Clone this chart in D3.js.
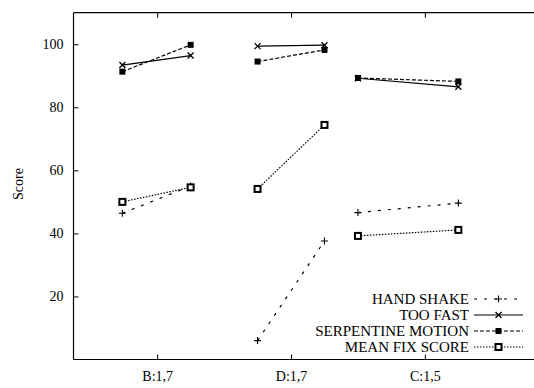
<!DOCTYPE html>
<html>
<head>
<meta charset="utf-8">
<script src="https://cdn.jsdelivr.net/npm/d3@7"></script>
<style>
  body { margin: 0; background: #fff; }
  svg text { font-family: "Liberation Serif", "DejaVu Serif", Times, serif; }
</style>
</head>
<body>
<div id="chart"></div>
<script>
// categories and tick positions
var categories = ["B:1,7", "D:1,7", "C:1,5"];
var catPos = [1, 2, 3];
var yTicks = [20, 40, 60, 80, 100];

// x positions of the point pairs (axis units)
var xB = [0.74, 1.25], xD = [1.75, 2.25], xC = [2.5, 3.25];

// series values, pair by pair
var handShake  = [[46.4, 55.0], [6.0, 37.6], [46.6, 49.6]];
var tooFast    = [[93.4, 96.4], [99.4, 99.7], [89.2, 86.5]];
var serpentine = [[91.3, 99.8], [94.5, 98.2], [89.3, 88.2]];
var meanFix    = [[50.0, 54.6], [54.1, 74.4], [39.2, 41.1]];

var seriesNames = ["HAND SHAKE", "TOO FAST", "SERPENTINE MOTION", "MEAN FIX SCORE"];

var width = 534, height = 388;
var plotLeft = 73.5, plotTop = 12.7, plotBottom = 359.5;

var x = d3.scaleLinear().domain([0.375, 3.875]).range([plotLeft, 542]);
var y = d3.scaleLinear().domain([0, 110]).range([plotBottom, plotTop]);

var svg = d3.select("#chart").append("svg")
  .attr("width", width)
  .attr("height", height)
  .style("display", "block");

var xs = [xB, xD, xC];
var series = [
  {name: seriesNames[0], data: handShake,  dash: "3,7",   marker: "plus"},
  {name: seriesNames[1], data: tooFast,    dash: null,    marker: "cross"},
  {name: seriesNames[2], data: serpentine, dash: "4,2",   marker: "fsquare"},
  {name: seriesNames[3], data: meanFix,    dash: "1.5,1.5", marker: "osquare"}
];

// frame: left, top, bottom (right edge falls outside the picture)
var frame = svg.append("g").attr("stroke", "#000").attr("stroke-width", 1.2).attr("fill", "none");
frame.append("line").attr("x1", plotLeft).attr("x2", plotLeft).attr("y1", plotTop).attr("y2", plotBottom);
frame.append("line").attr("x1", plotLeft).attr("x2", width).attr("y1", plotTop).attr("y2", plotTop);
frame.append("line").attr("x1", plotLeft).attr("x2", width).attr("y1", plotBottom).attr("y2", plotBottom);

function styleAxis(g) {
  g.select(".domain").remove();
  g.attr("font-family", null);
  g.selectAll("text").attr("font-size", 14).attr("fill", "#000");
  g.selectAll("line").attr("stroke", "#000");
}

// axes
var yAxis = d3.axisLeft(y).tickValues(yTicks).tickSize(-5).tickPadding(10);
svg.append("g").attr("transform", "translate(" + plotLeft + ",0)").call(yAxis).call(styleAxis);

var xAxis = d3.axisBottom(x).tickValues(catPos).tickFormat(function(d, i) { return categories[i]; })
  .tickSize(-5).tickPadding(12);
svg.append("g").attr("transform", "translate(0," + plotBottom + ")").call(xAxis).call(styleAxis);

var xTop = d3.axisTop(x).tickValues(catPos).tickFormat("").tickSize(-5);
svg.append("g").attr("transform", "translate(0," + plotTop + ")").call(xTop).call(styleAxis);

svg.append("text")
  .attr("transform", "translate(23," + 184 + ") rotate(-90)")
  .attr("text-anchor", "middle")
  .attr("font-size", 14)
  .text("Score");

function drawMarker(g, type, cx, cy) {
  if (type === "plus") {
    g.append("path").attr("d", "M" + (cx - 3.5) + "," + cy + "h7M" + cx + "," + (cy - 3.5) + "v7")
      .attr("stroke", "#000").attr("stroke-width", 1.1);
  } else if (type === "cross") {
    g.append("path").attr("d", "M" + (cx - 3) + "," + (cy - 3) + "l6,6M" + (cx - 3) + "," + (cy + 3) + "l6,-6")
      .attr("stroke", "#000").attr("stroke-width", 1.3);
  } else if (type === "fsquare") {
    g.append("rect").attr("x", cx - 3).attr("y", cy - 3).attr("width", 6).attr("height", 6)
      .attr("fill", "#000");
  } else if (type === "osquare") {
    g.append("rect").attr("x", cx - 3).attr("y", cy - 3).attr("width", 6).attr("height", 6)
      .attr("fill", "#fff").attr("stroke", "#000").attr("stroke-width", 2);
  }
}

var line = d3.line().x(function(d) { return x(d[0]); }).y(function(d) { return y(d[1]); });

series.forEach(function(s) {
  var g = svg.append("g");
  s.data.forEach(function(pair, i) {
    var pts = pair.map(function(v, j) { return [xs[i][j], v]; });
    g.append("path").attr("d", line(pts))
      .attr("fill", "none").attr("stroke", "#000").attr("stroke-width", 1.2)
      .attr("stroke-dasharray", s.dash);
    pts.forEach(function(p) { drawMarker(g, s.marker, x(p[0]), y(p[1])); });
  });
});

// legend
var legendY = [299, 315, 331, 347];
series.forEach(function(s, i) {
  var ly = legendY[i];
  var g = svg.append("g");
  g.append("text").attr("x", 469).attr("y", ly + 5).attr("text-anchor", "end")
    .attr("font-size", 15).text(s.name);
  g.append("line").attr("x1", 474).attr("x2", 523).attr("y1", ly).attr("y2", ly)
    .attr("stroke", "#000").attr("stroke-width", 1.2).attr("stroke-dasharray", s.dash);
  drawMarker(g, s.marker, 498.5, ly);
});
</script>
</body>
</html>
